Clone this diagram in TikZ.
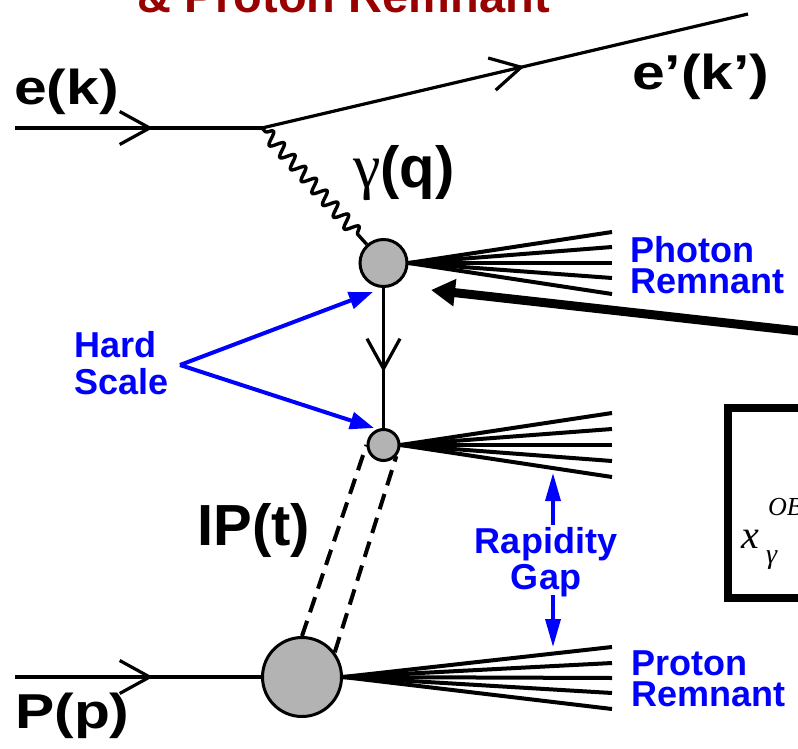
\documentclass[tikz,border=0pt]{standalone}
\usepackage{fontspec}
\setmainfont{Liberation Sans}
\newfontfamily\serifgrk{Liberation Serif}
\usetikzlibrary{arrows.meta,decorations.markings,decorations.pathmorphing}
\definecolor{titlered}{RGB}{153,0,0}
\definecolor{blobgray}{RGB}{179,179,179}
\begin{document}
\begin{tikzpicture}[x=1pt,y=-1pt,
  biglbl/.style={font=\bfseries\fontsize{49}{49}\selectfont, xscale=1.2, inner sep=0pt, anchor=base west},
  hugelbl/.style={font=\bfseries\fontsize{58}{58}\selectfont, inner sep=0pt, anchor=base west},
  bluelbl/.style={text=blue, font=\bfseries\fontsize{36}{#1}\selectfont, inner sep=0pt},
  blob/.style={circle, draw=black, fill=blobgray, line width=3pt, inner sep=0pt},
  fermion/.style={line width=3.2pt},
  chev/.style={postaction={decorate}, decoration={markings, mark=at position #1 with {\arrow{Straight Barb[length=30pt,width=33pt,line width=3.2pt]}}}},
  fan/.style={line width=4pt},
  bluearrow/.style={draw=blue, line width=4pt, -{Triangle[length=24pt,width=17pt]}},
  gaparrow/.style={draw=blue, line width=3.5pt, -{Triangle[length=28pt,width=15pt]}},
  serifit/.style={font=\serifgrk\itshape\fontsize{#1}{#1}\selectfont, inner sep=0pt, anchor=base west}
]
\useasboundingbox (0,0) rectangle (798,749);
\clip (0,0) rectangle (798,749);

% title (cut off at top)
\node[font=\bfseries\fontsize{47}{47}\selectfont, text=titlered, inner sep=0pt, anchor=base west] (title) at (137,13) {\& Proton Remnant};

% blobs
\node[blob, minimum size=47pt] (up) at (383.5,263) {};
\node[blob, minimum size=31pt] (sb) at (383.5,445) {};
\node[blob, minimum size=79pt] (pb) at (302,677) {};

% coordinates
\coordinate (ein) at (15,128);
\coordinate (vtx) at (262,128);
\coordinate (eout) at (748,14);
\coordinate (pin) at (15,677);

% electron lines
\draw[fermion, chev=138pt] (ein) -- (vtx);
\draw[fermion, chev=269.5pt] (vtx) -- (eout);
% photon
\draw[line width=3.4pt, line join=round, decorate, decoration={snake, amplitude=6.5pt, segment length=16pt, pre length=5pt, post length=7pt}] (vtx) -- (up);
% quark line
\draw[fermion, chev=84pt] (up) -- (sb);
% proton
\draw[fermion, chev=138pt] (pin) -- (pb);

% pomeron dashed lines
\draw[line width=4pt, dash pattern=on 16pt off 9pt] (pb.90) -- (sb.180);
\draw[line width=4pt, dash pattern=on 16pt off 9pt] (pb.37) -- (sb.-41);

% fans
\foreach \yy [count=\i] in {232,247,263,278,294} {
  \coordinate (ph\i) at (612,\yy);
  \draw[fan] (up.east) -- (ph\i);
}
\foreach \yy [count=\i] in {413,429,445,461,477} {
  \coordinate (hj\i) at (612,\yy);
  \draw[fan] (sb.east) -- (hj\i);
}
\foreach \yy [count=\i] in {647,663,678,693,709} {
  \coordinate (pr\i) at (612,\yy);
  \draw[fan] (pb.east) -- (pr\i);
}

% labels
\node[biglbl] (ek) at (14,105) {e(k)};
\node[biglbl] (ekp) at (632,90) {e’(k’)};
\node[hugelbl] (gq) at (353,187) {{\serifgrk\mdseries\fontsize{62}{62}\selectfont γ}(q)};
\node[hugelbl] (ipt) at (197,545) {IP(t)};
\node[biglbl] (pp) at (15,728) {P(p)};

% blue labels
\node[bluelbl=31, align=left, anchor=north west] (phr) at (630,236) {Photon\\Remnant};
\node[bluelbl=31, align=left, anchor=north west] (prr) at (631,651) {Proton\\Remnant};
\node[bluelbl=37, align=left, anchor=north west] (hs) at (74,331) {Hard\\Scale};
\node[bluelbl=36, align=center, anchor=north] (rg) at (546,527) {Rapidity\\Gap};

% hard scale arrows
\coordinate (hsv) at (180,365);
\coordinate (hs1) at (373,292);
\coordinate (hs2) at (374,428);
\draw[bluearrow] (hsv) -- (hs1);
\draw[bluearrow] (hsv) -- (hs2);

% rapidity gap arrows
\coordinate (rgu0) at (553,525);
\coordinate (rgu1) at (553,473);
\coordinate (rgd0) at (553,595);
\coordinate (rgd1) at (553,647);
\draw[gaparrow] (rgu0) -- (rgu1);
\draw[gaparrow] (rgd0) -- (rgd1);

% thick arrow from the right
\coordinate (ta0) at (812,332.5);
\coordinate (ta1) at (431,290);
\draw[line width=9pt, -{Triangle[length=24pt,width=26pt]}] (ta0) -- (ta1);

% box on the right
\draw[line width=8.5pt] (728,408) rectangle (850,598);
\node[serifit=40] (xg) at (741,548) {x};
\node[serifit=26] (obs) at (768,515) {OBS};
\node[serifit=28] (gam) at (766,563) {γ};
\end{tikzpicture}
\end{document}
